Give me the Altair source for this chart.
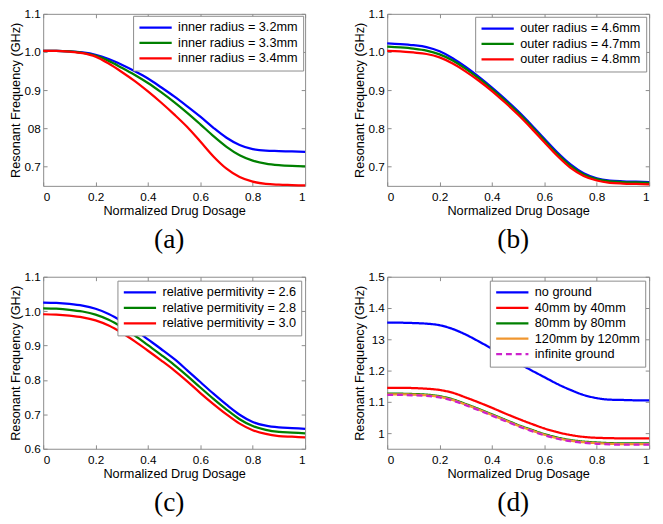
import altair as alt
import pandas as pd

# ---------------- data ----------------
x_vals = [0.0, 0.05, 0.1, 0.15, 0.2, 0.25, 0.3, 0.35, 0.4, 0.45, 0.5,
          0.55, 0.6, 0.65, 0.7, 0.75, 0.8, 0.85, 0.9, 0.95, 1.0]
x_ticks = [0, 0.2, 0.4, 0.6, 0.8, 1]

# (a) inner radius
a_names = ["inner radius = 3.2mm", "inner radius = 3.3mm", "inner radius = 3.4mm"]
a_r32 = [1.003, 1.003, 1.002, 0.999, 0.993, 0.982, 0.967, 0.950, 0.931, 0.908, 0.884,
         0.858, 0.831, 0.802, 0.776, 0.757, 0.746, 0.742, 0.741, 0.740, 0.739]
a_r33 = [1.003, 1.003, 1.002, 0.998, 0.991, 0.977, 0.959, 0.940, 0.919, 0.895, 0.869,
         0.841, 0.811, 0.780, 0.752, 0.730, 0.716, 0.708, 0.704, 0.702, 0.701]
a_r34 = [1.003, 1.003, 1.001, 0.997, 0.988, 0.970, 0.948, 0.924, 0.897, 0.868, 0.837,
         0.804, 0.766, 0.727, 0.695, 0.673, 0.661, 0.655, 0.653, 0.652, 0.651]
a_yticks = [0.7, 0.8, 0.9, 1.0, 1.1]

# (b) outer radius
b_names = ["outer radius = 4.6mm", "outer radius = 4.7mm", "outer radius = 4.8mm"]
b_r46 = [1.023, 1.021, 1.018, 1.013, 1.002, 0.984, 0.961, 0.935, 0.907, 0.877, 0.845,
         0.810, 0.773, 0.737, 0.706, 0.683, 0.670, 0.664, 0.662, 0.661, 0.660]
b_r47 = [1.014, 1.012, 1.009, 1.004, 0.994, 0.978, 0.956, 0.931, 0.903, 0.873, 0.841,
         0.806, 0.769, 0.733, 0.702, 0.680, 0.668, 0.662, 0.660, 0.659, 0.658]
b_r48 = [1.003, 1.002, 0.999, 0.995, 0.986, 0.970, 0.949, 0.925, 0.898, 0.868, 0.836,
         0.801, 0.764, 0.728, 0.697, 0.676, 0.664, 0.658, 0.656, 0.655, 0.654]
b_yticks = [0.7, 0.8, 0.9, 1.0, 1.1]

# (c) relative permittivity
c_names = ["relative permitivity = 2.6", "relative permitivity = 2.8",
           "relative permitivity = 3.0"]
c_e26 = [1.025, 1.024, 1.021, 1.016, 1.007, 0.992, 0.971, 0.946, 0.918, 0.890, 0.861,
         0.828, 0.794, 0.760, 0.728, 0.699, 0.678, 0.667, 0.662, 0.660, 0.658]
c_e28 = [1.008, 1.007, 1.004, 0.999, 0.990, 0.975, 0.954, 0.929, 0.901, 0.873, 0.844,
         0.812, 0.778, 0.745, 0.714, 0.686, 0.666, 0.655, 0.649, 0.647, 0.645]
c_e30 = [0.991, 0.990, 0.987, 0.982, 0.973, 0.958, 0.937, 0.912, 0.885, 0.857, 0.828,
         0.796, 0.762, 0.730, 0.700, 0.673, 0.654, 0.643, 0.637, 0.635, 0.633]
c_yticks = [0.6, 0.7, 0.8, 0.9, 1.0, 1.1]

# (d) ground plane
d_names = ["no ground", "40mm by 40mm", "80mm by 80mm", "120mm by 120mm",
           "infinite ground"]
d_none = [1.353, 1.353, 1.352, 1.350, 1.345, 1.333, 1.315, 1.293, 1.270, 1.248, 1.224,
          1.201, 1.179, 1.157, 1.138, 1.122, 1.112, 1.107, 1.106, 1.105, 1.105]
d_40 = [1.145, 1.145, 1.144, 1.142, 1.138, 1.129, 1.114, 1.098, 1.081, 1.063, 1.046,
        1.030, 1.015, 1.003, 0.994, 0.988, 0.985, 0.984, 0.983, 0.983, 0.983]
d_80 = [1.126, 1.126, 1.125, 1.123, 1.118, 1.108, 1.093, 1.077, 1.060, 1.043, 1.026,
        1.011, 0.997, 0.986, 0.978, 0.973, 0.970, 0.968, 0.967, 0.967, 0.967]
d_120 = [1.124, 1.124, 1.123, 1.121, 1.116, 1.106, 1.091, 1.075, 1.058, 1.041, 1.024,
         1.009, 0.995, 0.984, 0.976, 0.971, 0.968, 0.966, 0.965, 0.965, 0.965]
d_inf = [1.122, 1.122, 1.121, 1.119, 1.114, 1.104, 1.089, 1.073, 1.056, 1.039, 1.022,
         1.007, 0.993, 0.982, 0.974, 0.969, 0.966, 0.964, 0.963, 0.963, 0.963]
d_yticks = [1.0, 1.1, 1.2, 1.3, 1.4, 1.5]

# ---------------- style ----------------
FONT = "Liberation Sans"
SERIF = "Liberation Serif"
W, H = 268, 176
TL = 4
GRAY = "#8a8a8a"


def panel(names, series, colors, ydom, yticks, yfmt, ylab_expr, caption,
          dashes=None, loffset=3):
    rows = []
    for name, vals in zip(names, series):
        for x, y in zip(x_vals, vals):
            rows.append({"x": x, "y": y, "series": name})
    df = pd.DataFrame(rows)

    xscale = alt.Scale(domain=[0, 1], nice=False, zero=False)
    yscale = alt.Scale(domain=ydom, nice=False, zero=False)
    legend = alt.Legend(
        title=None, orient="top-right", offset=loffset, padding=5,
        fillColor="white", strokeColor=GRAY, symbolType="stroke",
        symbolSize=1089, symbolStrokeWidth=2.3, labelFont=FONT, labelFontSize=13,
        labelColor="black", clipHeight=14, rowPadding=1.8, labelOffset=5,
    )
    layers = []
    for i, name in enumerate(names):
        if i == 0:
            xaxis = alt.Axis(orient="bottom", values=x_ticks, format="~g",
                             title="Normalized Drug Dosage", offset=-TL, tickSize=TL,
                             domain=False, labelPadding=6, titlePadding=2)
            yaxis = alt.Axis(orient="left", values=yticks, format=yfmt,
                             labelExpr=ylab_expr,
                             title="Resonant Frequency (GHz)", offset=-TL,
                             tickSize=TL, domain=False, labelPadding=3,
                             titlePadding=2)
        elif i == 1:
            xaxis = alt.Axis(orient="top", values=x_ticks, labels=False,
                             title=None, offset=-TL, tickSize=TL, domain=False)
            yaxis = alt.Axis(orient="right", values=yticks, labels=False,
                             title=None, offset=-TL, tickSize=TL, domain=False)
        else:
            xaxis = None
            yaxis = None
        enc = dict(
            x=alt.X("x:Q", scale=xscale, axis=xaxis),
            y=alt.Y("y:Q", scale=yscale, axis=yaxis),
            color=alt.Color("series:N", scale=alt.Scale(domain=names, range=colors),
                            legend=legend),
        )
        if dashes is not None:
            enc["strokeDash"] = alt.StrokeDash(
                "series:N", scale=alt.Scale(domain=names, range=dashes), legend=legend)
        layers.append(
            alt.Chart(df)
            .transform_filter(alt.datum.series == name)
            .mark_line(strokeWidth=2.3, interpolate="monotone")
            .encode(**enc)
        )
    return (
        alt.layer(*layers)
        .resolve_axis(x="independent", y="independent")
        .properties(
            width=W, height=H,
            title=alt.TitleParams(caption, orient="bottom", anchor="middle",
                                  frame="group", font=SERIF, fontSize=28,
                                  fontWeight="normal", color="black", offset=10, dx=-5),
        )
    )


rgb3 = ["#0000ff", "#008000", "#ff0000"]

pa = panel(a_names, [a_r32, a_r33, a_r34], rgb3, [0.65, 1.1], a_yticks, ".1f",
           "datum.label == '0.8' ? '08' : datum.label", "(a)", loffset=2)
pb = panel(b_names, [b_r46, b_r47, b_r48], rgb3, [0.65, 1.1], b_yticks, ".1f",
           "datum.label", "(b)", loffset=3)
pc = panel(c_names, [c_e26, c_e28, c_e30], rgb3, [0.6, 1.1], c_yticks, ".1f",
           "datum.label", "(c)", loffset=4)
pd_ = panel(d_names, [d_none, d_40, d_80, d_120, d_inf],
            ["#0000ff", "#ff0000", "#008000", "#f0962f", "#cc22cc"],
            [0.95, 1.5], d_yticks, "~g",
            "datum.label == '1.3' ? '13' : datum.label", "(d)",
            dashes=[[1, 0], [1, 0], [1, 0], [1, 0], [6, 4]], loffset=4)

ind = dict(color="independent", strokeDash="independent",
           x="independent", y="independent")

row1 = alt.hconcat(pa, pb, spacing=42).resolve_scale(**ind)
row2 = alt.hconcat(pc, pd_, spacing=42).resolve_scale(**ind)

chart = (
    alt.vconcat(row1, row2, spacing=15)
    .resolve_scale(**ind)
    .properties(padding={"left": 0, "top": -7, "right": 0, "bottom": 0})
    .configure_view(stroke=GRAY, strokeWidth=1)
    .configure_axis(labelFont=FONT, labelFontSize=12, labelColor="black",
                    titleFont=FONT, titleFontSize=13, titleFontWeight="normal",
                    titleColor="black", tickColor=GRAY, grid=False)
)

chart.save("out.html", embed_options={"renderer": "svg", "actions": False})
